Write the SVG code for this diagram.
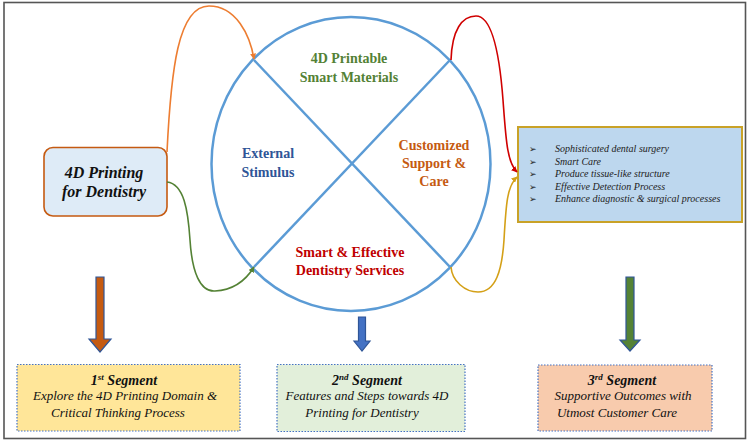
<svg xmlns="http://www.w3.org/2000/svg" width="748" height="443" viewBox="0 0 748 443">
<defs>
<style>
text{font-family:'Liberation Serif','DejaVu Serif',serif}
.conn{fill:none;stroke-width:1.6}
.lbl{font-weight:bold;font-size:14px;text-anchor:middle}
.seg{stroke:#4472c4;stroke-width:1.2;stroke-dasharray:1.5 1.5}
.segT{font-style:italic;font-weight:bold;font-size:14px;text-anchor:middle;fill:#111}
.segL{font-style:italic;font-size:13px;text-anchor:middle;fill:#111}
.item{font-style:italic;font-size:10px;fill:#222}
.big{stroke:#2f5597;stroke-width:1.2}
</style>
<marker id="mOr" viewBox="0 0 10 10" refX="9" refY="5" markerWidth="6" markerHeight="6" orient="auto" markerUnits="userSpaceOnUse"><path d="M0,0 L10,5 L0,10 z" fill="#ed7d31"/></marker>
<marker id="mGr" viewBox="0 0 10 10" refX="9" refY="5" markerWidth="6" markerHeight="6" orient="auto" markerUnits="userSpaceOnUse"><path d="M0,0 L10,5 L0,10 z" fill="#548235"/></marker>
<marker id="mRd" viewBox="0 0 10 10" refX="9" refY="5" markerWidth="6" markerHeight="6" orient="auto" markerUnits="userSpaceOnUse"><path d="M0,0 L10,5 L0,10 z" fill="#d00000"/></marker>
<marker id="mGd" viewBox="0 0 10 10" refX="9" refY="5" markerWidth="6" markerHeight="6" orient="auto" markerUnits="userSpaceOnUse"><path d="M0,0 L10,5 L0,10 z" fill="#d4a017"/></marker>
</defs>
<rect x="0" y="0" width="748" height="443" fill="#ffffff"/>
<rect x="4" y="2.5" width="741.5" height="436" fill="none" stroke="#555" stroke-width="1.6"/>

<g id="cycle">
<ellipse cx="351" cy="164" rx="139.5" ry="147" fill="none" stroke="#5b9bd5" stroke-width="2.5"/>
<line x1="254" y1="60" x2="450" y2="267" stroke="#5b9bd5" stroke-width="2.5"/>
<line x1="450" y1="60" x2="254" y2="267" stroke="#5b9bd5" stroke-width="2.5"/>
</g>

<g id="quad-top"><text class="lbl" fill="#538135"><tspan x="349" y="63">4D Printable</tspan><tspan x="349" y="82">Smart Materials</tspan></text></g>
<g id="quad-left"><text class="lbl" fill="#2f5597"><tspan x="268" y="158">External</tspan><tspan x="268" y="177">Stimulus</tspan></text></g>
<g id="quad-right"><text class="lbl" fill="#c55a11"><tspan x="434" y="150">Customized</tspan><tspan x="434" y="168">Support &amp;</tspan><tspan x="434" y="186">Care</tspan></text></g>
<g id="quad-bottom"><text class="lbl" fill="#c00000"><tspan x="350" y="257">Smart &amp; Effective</tspan><tspan x="350" y="275">Dentistry Services</tspan></text></g>

<g id="node-4d">
<rect x="44" y="147.5" width="123" height="68.5" rx="9" fill="#deebf7" stroke="#c55a11" stroke-width="1.6"/>
<text font-size="16" font-weight="bold" font-style="italic" text-anchor="middle" fill="#111"><tspan x="104" y="178">4D Printing</tspan><tspan x="104" y="197">for Dentistry</tspan></text>
</g>

<g id="node-outcomes">
<rect x="518" y="127" width="224" height="95" fill="#bdd7ee" stroke="#c9a227" stroke-width="2"/>
<g font-family="'DejaVu Sans',sans-serif" font-size="9" fill="#222" style="font-family:'DejaVu Sans',sans-serif">
<text x="529" y="152">➢</text>
<text x="529" y="164.5">➢</text>
<text x="529" y="177">➢</text>
<text x="529" y="189.5">➢</text>
<text x="529" y="202">➢</text>
</g>
<text class="item" x="555" y="152">Sophisticated dental surgery</text>
<text class="item" x="555" y="164.5">Smart Care</text>
<text class="item" x="555" y="177">Produce tissue-like structure</text>
<text class="item" x="555" y="189.5">Effective Detection Process</text>
<text class="item" x="555" y="202">Enhance diagnostic &amp; surgical processes</text>
</g>

<g id="connectors">
<path class="conn" stroke="#ed7d31" marker-end="url(#mOr)" d="M167,152 C171,70 178,6 209,6 C236,6 250,35 254,59"/>
<path class="conn" stroke="#548235" marker-end="url(#mGr)" d="M167,182 C184,184 188,210 190,240 C192,272 200,292 215,291 C235,290 246,280 254,267"/>
<path class="conn" stroke="#d00000" marker-end="url(#mRd)" d="M451,60 C452,30 462,16 476,16 C493,16 500,60 503,100 C506,140 507,162 517,172"/>
<path class="conn" stroke="#d4a017" marker-end="url(#mGd)" d="M451,267 C452,281 465,292 478,292 C496,292 502,270 504,240 C506,205 507,186 517,177"/>
</g>

<g id="arrow-1"><path class="big" fill="#c55a11" d="M96,277 L104,277 L104,339 L111,339 L100,352 L89,339 L96,339 Z"/></g>
<g id="arrow-2"><path class="big" fill="#4472c4" d="M358.5,317 L365.5,317 L365.5,341 L370,341 L362,351 L354,341 L358.5,341 Z"/></g>
<g id="arrow-3"><path class="big" fill="#548235" d="M626,277 L634,277 L634,340 L640,340 L630,351 L620,340 L626,340 Z"/></g>

<g id="segment-1">
<rect class="seg" x="17" y="364.5" width="223" height="66.5" fill="#ffe699"/>
<text class="segT" x="124" y="385">1<tspan font-size="9" baseline-shift="super">st</tspan> Segment</text>
<text class="segL" x="125" y="400">Explore the 4D Printing Domain &amp;</text>
<text class="segL" x="118" y="417">Critical Thinking Process</text>
</g>
<g id="segment-2">
<rect class="seg" x="277" y="364.5" width="188" height="67" fill="#e2efda"/>
<text class="segT" x="367" y="385">2<tspan font-size="9" baseline-shift="super">nd</tspan> Segment</text>
<text class="segL" x="367" y="400">Features and Steps towards 4D</text>
<text class="segL" x="362" y="417">Printing for Dentistry</text>
</g>
<g id="segment-3">
<rect class="seg" x="538" y="365" width="174" height="66" fill="#f8cbad"/>
<text class="segT" x="622" y="385">3<tspan font-size="9" baseline-shift="super">rd</tspan> Segment</text>
<text class="segL" x="623" y="400">Supportive Outcomes with</text>
<text class="segL" x="617" y="417">Utmost Customer Care</text>
</g>
</svg>
